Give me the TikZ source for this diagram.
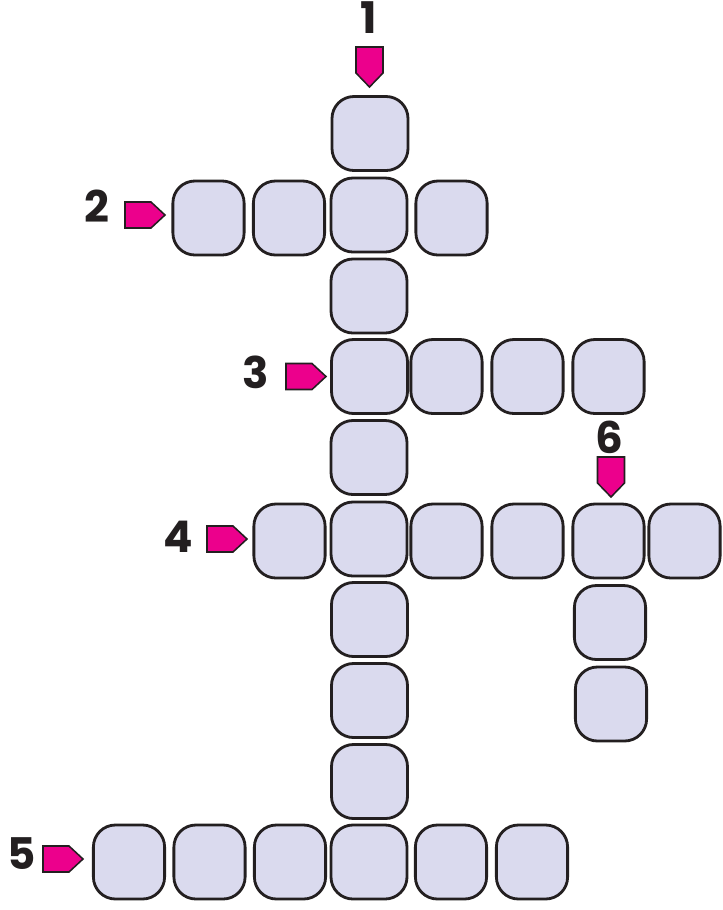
\documentclass[tikz,border=0pt]{standalone}
\usepackage{fontspec}
\setsansfont{Poppins}
\definecolor{cellfill}{RGB}{218,218,238}
\definecolor{markpink}{RGB}{236,0,140}
\definecolor{ink}{RGB}{35,31,32}

\begin{document}
\begin{tikzpicture}[x=0.025cm, y=-0.025cm,
	cell/.style={rectangle, draw=ink, line width=2pt, rounded corners=0.55cm, fill=cellfill, minimum width=1.78cm, minimum height=1.85cm},
	midcell/.style={cell, minimum width=1.9cm},
	marker/.style={draw=ink, line width=1.1pt, line join=miter, fill=markpink},
	num/.style={font=\sffamily\bfseries\fontsize{31}{31}\selectfont, text=ink}
	]
	\useasboundingbox (0,0) rectangle (723,910);

	% word 1 (down, middle column)
	\node[midcell] (w1-1) at (370,133.5) {};
	\node[midcell] (w1-2) at (369,215) {};
	\node[midcell] (w1-3) at (369,296) {};
	\node[midcell] (w1-4) at (369.5,376.5) {};
	\node[midcell] (w1-5) at (369,457.5) {};
	\node[midcell] (w1-6) at (369,539) {};
	\node[midcell] (w1-7) at (369.5,619.5) {};
	\node[midcell] (w1-8) at (369.5,700.5) {};
	\node[midcell] (w1-9) at (369.5,781.5) {};
	\node[midcell] (w1-10) at (369,862) {};

	% word 2
	\node[cell] (w2-1) at (208.5,218) {};
	\node[cell] (w2-2) at (289,218) {};
	\node[cell] (w2-4) at (451.5,218) {};

	% word 3
	\node[cell] (w3-2) at (446.5,376.5) {};
	\node[cell] (w3-3) at (527.5,376.5) {};
	\node[cell] (w3-4) at (608.5,376.5) {};

	% word 4
	\node[cell] (w4-1) at (289.5,541) {};
	\node[cell] (w4-3) at (446.5,541) {};
	\node[cell] (w4-4) at (527.5,541) {};
	\node[cell] (w4-5) at (608.5,541) {};
	\node[cell] (w4-6) at (684.5,541) {};

	% word 5
	\node[cell] (w5-1) at (129,862) {};
	\node[cell] (w5-2) at (209.5,862) {};
	\node[cell] (w5-3) at (290,862) {};
	\node[cell] (w5-5) at (451,862) {};
	\node[cell] (w5-6) at (532,862) {};

	% word 6 (down)
	\node[cell] (w6-2) at (610,622.5) {};
	\node[cell] (w6-3) at (611,704) {};

	% start markers (tips) and numbers
	\coordinate (m1) at (369.5,87);
	\coordinate (m2) at (165,215);
	\coordinate (m3) at (326,376.5);
	\coordinate (m4) at (247,539);
	\coordinate (m5) at (83,859);
	\coordinate (m6) at (611,497);
	\draw[marker] (m1) -- ++(-13.5,-14) -- ++(0,-26) -- ++(27,0) -- ++(0,26) -- cycle;
	\draw[marker] (m6) -- ++(-13.5,-14) -- ++(0,-26) -- ++(27,0) -- ++(0,26) -- cycle;
	\draw[marker] (m2) -- ++(-14,-13) -- ++(-26,0) -- ++(0,26) -- ++(26,0) -- cycle;
	\draw[marker] (m3) -- ++(-14,-13) -- ++(-26,0) -- ++(0,26) -- ++(26,0) -- cycle;
	\draw[marker] (m4) -- ++(-14,-13) -- ++(-26,0) -- ++(0,26) -- ++(26,0) -- cycle;
	\draw[marker] (m5) -- ++(-14,-13) -- ++(-26,0) -- ++(0,26) -- ++(26,0) -- cycle;
	\node[num] (n1) at (369,18) {1};
	\node[num] (n2) at (97,206) {2};
	\node[num] (n3) at (256,372) {3};
	\node[num] (n4) at (178.5,537) {4};
	\node[num] (n5) at (21.5,854) {5};
	\node[num] (n6) at (609.5,437.5) {6};
\end{tikzpicture}
\end{document}
